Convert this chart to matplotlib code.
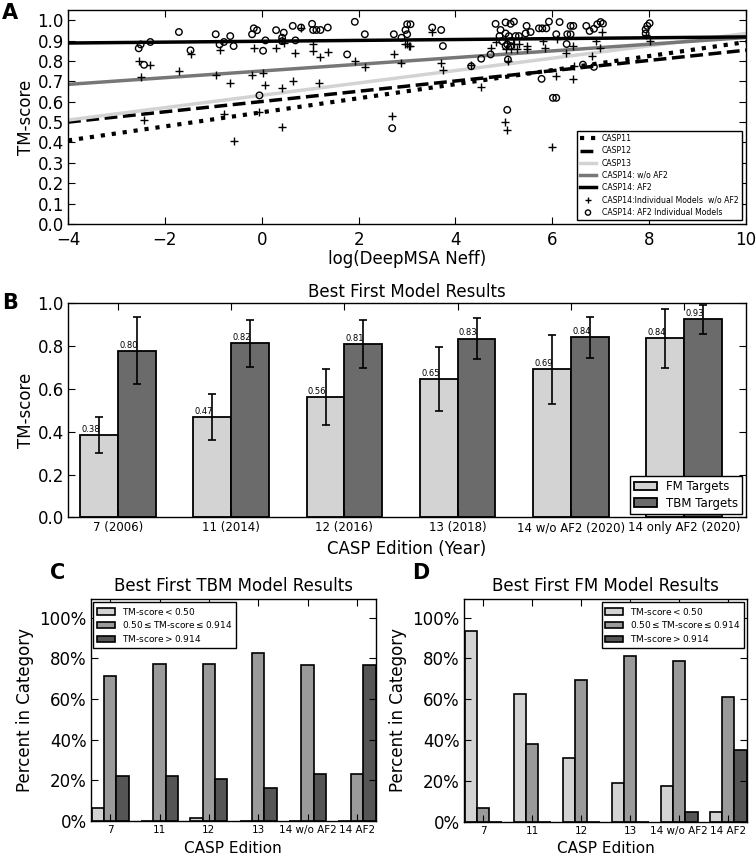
import matplotlib
matplotlib.use("Agg")
import matplotlib.pyplot as plt
import numpy as np

plt.rcParams['font.family'] = ['DejaVu Sans']

# ---------------- Panel A data ----------------
fit_names = ['CASP11', 'CASP12', 'CASP13', 'CASP14: w/o AF2', 'CASP14: AF2']
fit_x = [-4, 10]
fit_start = [0.41, 0.50, 0.51, 0.685, 0.888]
fit_end = [0.893, 0.853, 0.935, 0.915, 0.918]

noaf2_x = [-2.54, -2.30, -2.50, -1.71, -1.47, -0.87, -0.95, -0.65, -2.43, -0.78, -0.58,
           -0.164, 0.297, 0.455, 0.696, 1.061, 1.061, 1.213, 1.364, -0.199, 0.028, 0.077,
           0.421, 0.641, 1.192, 1.922, 2.129, 2.728, 2.886, 3.003, 3.072, -0.047, 0.421,
           2.694, 0.813, 0.42,
           2.969, 3.038, 3.520, 3.706, 3.741, 4.326, 4.726, 4.829, 5.036, 5.139, 5.208,
           5.277, 5.311, 5.469, 5.483, 5.807, 5.841, 6.103, 6.289, 6.427, 6.082, 6.427,
           4.519, 5.022, 5.070, 6.000, 5.084,
           6.895, 7.032, 7.928, 8.010, 6.826, 6.984, 6.447]
noaf2_y = [0.802, 0.781, 0.722, 0.751, 0.835, 0.853, 0.730, 0.692, 0.511, 0.539, 0.407,
           0.862, 0.862, 0.890, 0.840, 0.885, 0.849, 0.821, 0.843, 0.730, 0.741, 0.680,
           0.669, 0.702, 0.692, 0.799, 0.769, 0.832, 0.791, 0.881, 0.873, 0.549, 0.478,
           0.530, 0.964, 0.905,
           0.881, 0.873, 0.942, 0.791, 0.758, 0.778, 0.862, 0.895, 0.857, 0.857, 0.881,
           0.857, 0.885, 0.873, 0.857, 0.897, 0.865, 0.909, 0.840, 0.873, 0.728, 0.712,
           0.670, 0.499, 0.461, 0.379, 0.800,
           0.897, 0.942, 0.926, 0.897, 0.824, 0.865, 0.776]

af2_x = [-2.54, -2.50, -2.43, -2.30, -1.71, -1.47, -0.95, -0.87, -0.78, -0.65, -0.58,
         -0.199, -0.164, -0.096, 0.077, 0.028, 0.297, 0.455, 0.421, 0.421, 0.641, 0.696,
         0.813, 1.04, 1.061, 1.13, 1.213, 1.364, 1.764, 1.922, 2.129, 2.728, 2.886, 2.969,
         3.003, 3.072, 3.003, 2.694, -0.047,
         3.520, 3.706, 3.741, 4.533, 4.726, 4.829, 4.932, 5.036, 5.139, 5.208, 4.911,
         4.967, 5.036, 5.104, 5.139, 5.070, 5.036, 5.139, 5.242, 5.311, 5.469, 5.449,
         5.552, 5.724, 5.793, 5.876, 5.931, 6.082, 6.151, 6.309, 6.378, 6.434, 6.378,
         6.296, 5.084, 4.326, 5.779, 6.013, 6.082, 5.070,
         6.702, 6.771, 6.860, 6.929, 6.998, 7.046, 7.928, 7.962, 8.010, 7.928, 6.633, 6.860]
af2_y = [0.862, 0.881, 0.781, 0.893, 0.942, 0.852, 0.931, 0.881, 0.893, 0.922, 0.873,
         0.931, 0.960, 0.951, 0.901, 0.850, 0.951, 0.939, 0.914, 0.897, 0.972, 0.901,
         0.964, 0.982, 0.952, 0.952, 0.952, 0.964, 0.832, 0.992, 0.931, 0.931, 0.914, 0.952,
         0.980, 0.980, 0.931, 0.470, 0.631,
         0.964, 0.952, 0.873, 0.811, 0.832, 0.982, 0.952, 0.989, 0.982, 0.993, 0.922,
         0.897, 0.935, 0.922, 0.897, 0.881, 0.873, 0.873, 0.922, 0.922, 0.972, 0.935,
         0.942, 0.960, 0.960, 0.960, 0.993, 0.931, 0.991, 0.931, 0.972, 0.972, 0.931,
         0.883, 0.807, 0.774, 0.712, 0.619, 0.619, 0.560,
         0.972, 0.947, 0.958, 0.980, 0.991, 0.983, 0.955, 0.972, 0.985, 0.935, 0.782, 0.771]

# ---------------- Panel B data ----------------
editions_b = ['7 (2006)', '11 (2014)', '12 (2016)', '13 (2018)', '14 w/o AF2 (2020)', '14 only AF2 (2020)']
fm_mean = [0.385, 0.469, 0.564, 0.647, 0.692, 0.837]
fm_err = [0.086, 0.108, 0.131, 0.150, 0.163, 0.137]
tbm_mean = [0.779, 0.815, 0.811, 0.836, 0.842, 0.926]
tbm_err = [0.156, 0.110, 0.112, 0.095, 0.095, 0.067]
fm_label = ['0.38', '0.47', '0.56', '0.65', '0.69', '0.84']
tbm_label = ['0.80', '0.82', '0.81', '0.83', '0.84', '0.93']

# ---------------- Panels C / D data ----------------
editions_cd = ['7', '11', '12', '13', '14 w/o AF2', '14 AF2']
cat_labels = [r'TM-score$<$0.50', r'0.50$\leq$TM-score$\leq$0.914', r'TM-score$>$0.914']
tbm_low = [6.2, 0.0, 1.6, 0.0, 0.0, 0.0]
tbm_mid = [71.2, 77.3, 77.1, 82.5, 76.6, 23.1]
tbm_high = [22.1, 22.3, 20.8, 16.2, 23.2, 76.8]
fm_low = [93.3, 62.3, 31.0, 18.9, 17.5, 4.6]
fm_mid = [6.8, 37.8, 69.5, 81.2, 78.5, 61.0]
fm_high = [0.0, 0.0, 0.0, 0.0, 4.6, 34.9]

W, H = 756, 855
fig = plt.figure(figsize=(W / 100, H / 100), dpi=100)


def box(l, t, r, b):
    return [l / W, 1 - b / H, (r - l) / W, (b - t) / H]


def style_ticks(ax, labsize):
    ax.tick_params(direction='in', top=True, right=True, length=5, width=0.8,
                   labelsize=labsize, pad=3)
    for s in ax.spines.values():
        s.set_linewidth(1.0)


# ---------------- Panel A ----------------
axA = fig.add_axes(box(68, 10, 746, 224))
line_styles = [dict(color='black', ls=':', lw=3.0),
               dict(color='black', ls='--', lw=2.5),
               dict(color='#d3d3d3', ls='-', lw=2.5),
               dict(color='#777777', ls='-', lw=2.5),
               dict(color='black', ls='-', lw=2.5)]
for name, s0, s1, st in zip(fit_names, fit_start, fit_end, line_styles):
    axA.plot(fit_x, [s0, s1], label=name, **st)
axA.scatter(noaf2_x, noaf2_y, marker='+', s=26, color='black', linewidths=1.0,
            label='CASP14:Individual Models  w/o AF2', zorder=3)
axA.scatter(af2_x, af2_y, marker='o', s=22, facecolors='none', edgecolors='black',
            linewidths=1.0, label='CASP14: AF2 Individual Models', zorder=3)
axA.set_xlim(-4, 10)
axA.set_ylim(0, 1.05)
axA.set_yticks(np.arange(0, 1.01, 0.1))
axA.set_yticklabels([f'{v:.1f}' for v in np.arange(0, 1.01, 0.1)])
axA.set_xticks([-4, -2, 0, 2, 4, 6, 8, 10])
style_ticks(axA, 12)
axA.tick_params(axis='x', pad=5)
axA.set_xlabel('log(DeepMSA Neff)', fontsize=12, labelpad=1)
axA.set_ylabel('TM-score', fontsize=12, labelpad=2)
legA = axA.legend(loc='lower right', fontsize=5.6, fancybox=False, edgecolor='black',
                  framealpha=1, handlelength=2.0, borderpad=0.45, labelspacing=0.42,
                  scatterpoints=1, borderaxespad=0.5, markerscale=0.8)
legA.get_frame().set_linewidth(1.0)

# ---------------- Panel B ----------------
axB = fig.add_axes(box(68, 303.5, 746, 517.3))
xb = np.arange(len(editions_b))
wb = 0.333
err_kw = dict(ecolor='black', elinewidth=1.2, capsize=3, capthick=1.2)
axB.bar(xb - wb, fm_mean, wb, align='edge', color='#d3d3d3', edgecolor='black',
        linewidth=1.3, yerr=fm_err, error_kw=err_kw, label='FM Targets')
axB.bar(xb, tbm_mean, wb, align='edge', color='#6b6b6b', edgecolor='black',
        linewidth=1.3, yerr=tbm_err, error_kw=err_kw, label='TBM Targets')
for i in range(len(xb)):
    axB.text(xb[i] - wb + 0.01, fm_mean[i] + 0.005, fm_label[i], fontsize=6,
             ha='left', va='bottom')
    axB.text(xb[i] + 0.01, tbm_mean[i] + 0.005, tbm_label[i], fontsize=6,
             ha='left', va='bottom')
axB.set_xlim(-0.441, 5.546)
axB.set_ylim(0, 1.0)
axB.set_yticks([0.0, 0.2, 0.4, 0.6, 0.8, 1.0])
axB.set_xticks(xb)
axB.set_xticklabels(editions_b)
style_ticks(axB, 12)
axB.tick_params(axis='x', labelsize=8.5)
axB.set_title('Best First Model Results', fontsize=12, pad=5)
axB.set_xlabel('CASP Edition (Year)', fontsize=12)
axB.set_ylabel('TM-score', fontsize=12, labelpad=2)
legB = axB.legend(loc='lower right', fontsize=8.5, fancybox=False, edgecolor='black',
                  framealpha=1, handlelength=1.9, borderpad=0.35, labelspacing=0.3,
                  borderaxespad=0.3)
legB.get_frame().set_linewidth(1.0)

# ---------------- Panels C and D ----------------
cd_colors = ['#d3d3d3', '#9a9a9a', '#555555']


def pct_panel(rect, low, mid, high, title, legloc):
    ax = fig.add_axes(rect)
    x = np.arange(len(editions_cd))
    w = 0.25
    for k, (vals, c, lab) in enumerate(zip([low, mid, high], cd_colors, cat_labels)):
        ax.bar(x + k * w, np.array(vals) / 100.0, w, align='edge', color=c,
               edgecolor='black', linewidth=1.2, label=lab)
    ax.set_xlim(-0.02, 5.76)
    ax.set_ylim(0, 1.09)
    ax.set_yticks([0, 0.2, 0.4, 0.6, 0.8, 1.0])
    ax.set_yticklabels(['0%', '20%', '40%', '60%', '80%', '100%'])
    ax.set_xticks(x + 1.5 * w)
    ax.set_xticklabels(editions_cd)
    style_ticks(ax, 12)
    ax.tick_params(axis='x', labelsize=7.5)
    ax.set_title(title, fontsize=12, pad=6)
    ax.set_xlabel('CASP Edition', fontsize=11)
    ax.set_ylabel('Percent in Category', fontsize=12, labelpad=4)
    lg = ax.legend(loc=legloc, fontsize=6.5, fancybox=False, edgecolor='black',
                   framealpha=1, handlelength=2.0, borderpad=0.4, labelspacing=0.3,
                   borderaxespad=0.3)
    lg.get_frame().set_linewidth(1.0)
    return ax


pct_panel(box(90.7, 599.3, 376, 821), tbm_low, tbm_mid, tbm_high,
          'Best First TBM Model Results', 'upper left')
pct_panel(box(464, 599.3, 747, 821.5), fm_low, fm_mid, fm_high,
          'Best First FM Model Results', 'upper right')

# panel letters
for letter, (px, py) in zip('ABCD', [(2, 3), (2, 293), (50, 563), (412, 563)]):
    fig.text(px / W, 1 - py / H, letter, fontsize=15, fontweight='bold',
             ha='left', va='top')

fig.savefig('out.png', dpi=100)
